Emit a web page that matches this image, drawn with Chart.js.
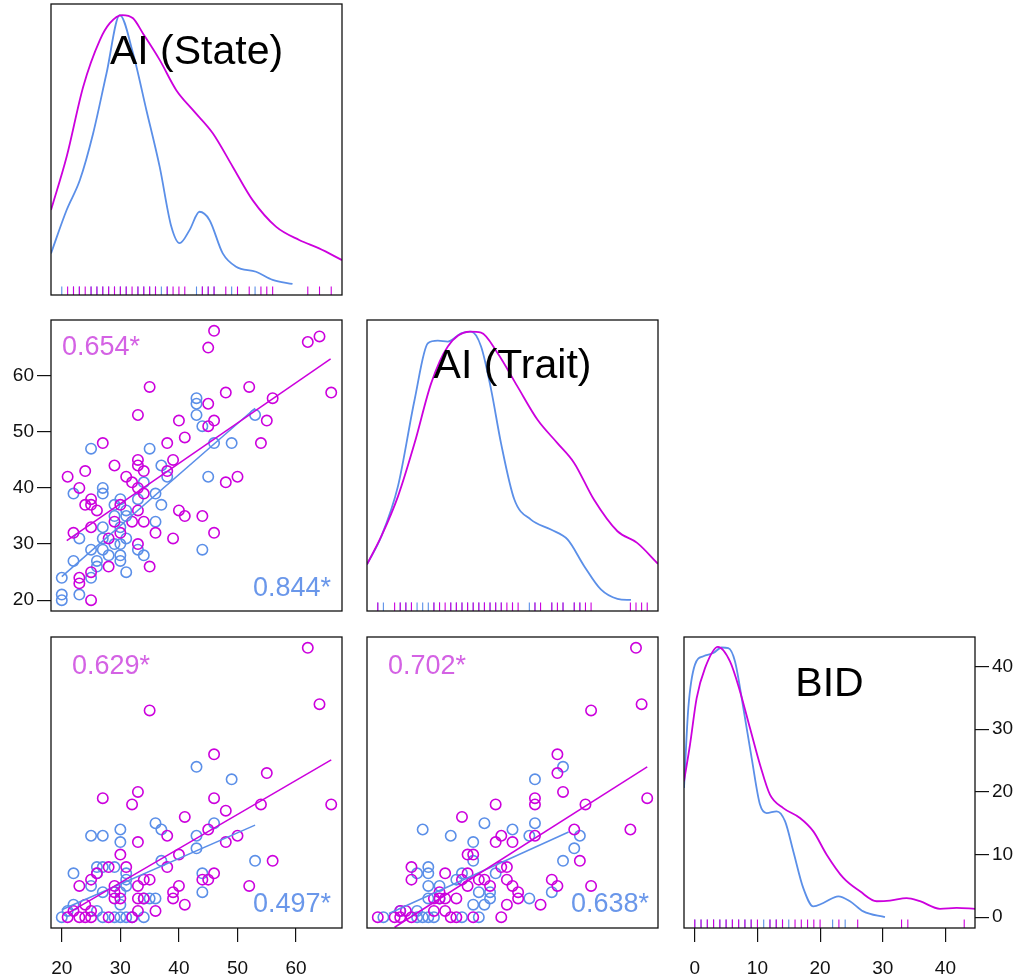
<!DOCTYPE html>
<html>
<head>
<meta charset="utf-8">
<script src="https://cdn.jsdelivr.net/npm/chart.js@4.4.1/dist/chart.umd.min.js"></script>
<style>
  body { margin: 0; background: #fff; width: 1023px; height: 980px; position: relative; overflow: hidden; }
  canvas { position: absolute; }
</style>
</head>
<body>
<script>
// ---- data ----
const stateTicks = [20, 30, 40, 50, 60];
const traitTicks = [20, 30, 40, 50, 60];
const bidTicks = [0, 10, 20, 30, 40];

const stateRange = [18.16, 67.84];
const traitRange = [18.08, 69.92];
const bidRange = [-1.72, 44.72];
const densRange = [0, 1];

// AI (State) x AI (Trait)
const p21Mag = [[46,68],[45,65],[62,66],[64,67],[66,57],[35,58],[33,53],[45,55],[48,57],[52,58],[56,56],[40,52],[46,52],[45,51],[55,52],[54,48],[41,49],[38,48],[39,45],[48,41],[50,42],[38,43],[33,45],[33,44],[34,43],[29,44],[27,48],[24,43],[21,42],[23,40],[31,42],[32,41],[33,40],[34,39],[24,37],[25,38],[25,37],[26,36],[30,37],[33,36],[40,36],[41,35],[44,35],[46,32],[29,34],[32,34],[34,34],[22,32],[25,33],[30,32],[36,32],[28,31],[39,31],[33,30],[28,26],[35,26],[23,24],[23,23],[25,25],[25,20]];
const p21Blue = [[43,56],[43,55],[43,53],[44,51],[53,53],[46,48],[49,48],[45,42],[44,29],[25,47],[35,47],[37,44],[38,42],[27,40],[27,39],[22,39],[34,41],[36,39],[37,37],[33,38],[30,38],[29,37],[31,36],[31,35],[29,35],[36,34],[27,33],[30,33],[23,31],[27,31],[31,31],[29,30],[30,30],[25,29],[27,29],[33,29],[28,28],[30,28],[34,28],[22,27],[26,27],[30,27],[26,26],[31,25],[25,24],[20,24],[20,21],[20,20],[23,21]];

// AI (State) x BID
const p31Mag = [[62,43],[64,34],[35,33],[46,26],[55,23],[46,19],[27,19],[33,20],[32,18],[41,16],[48,17],[54,18],[66,18],[38,13],[45,14],[33,12],[48,12],[50,13],[40,10],[30,10],[38,8],[56,9],[28,8],[31,8],[26,7],[23,5],[25,6],[34,6],[35,6],[44,6],[45,6],[46,7],[52,5],[40,5],[29,5],[33,5],[39,4],[39,3],[29,3],[30,3],[33,3],[34,3],[41,2],[24,2],[22,1],[25,1],[33,1],[36,1],[21,0],[23,0],[24,0],[25,0],[28,0],[32,0],[29,4]];
const p31Blue = [[43,24],[49,22],[36,15],[37,14],[46,15],[43,13],[25,13],[27,13],[30,14],[30,12],[43,11],[37,9],[53,9],[26,8],[27,8],[29,8],[22,7],[26,7],[31,7],[31,6],[44,7],[44,4],[25,5],[27,4],[31,5],[30,4],[34,3],[35,3],[36,3],[22,2],[30,2],[26,1],[20,0],[27,0],[29,0],[30,0],[31,0],[32,0],[34,0],[21,1]];

// AI (Trait) x BID
const p32Mag = [[66,43],[67,34],[58,33],[52,26],[52,23],[53,20],[68,19],[48,19],[48,18],[57,18],[41,18],[35,16],[65,14],[55,14],[48,13],[42,13],[41,12],[44,12],[36,10],[37,10],[56,9],[26,8],[26,6],[32,7],[36,7],[42,8],[43,8],[43,6],[38,6],[39,6],[40,5],[44,5],[51,6],[52,5],[58,5],[45,4],[45,3],[35,6],[36,5],[31,4],[32,3],[31,3],[34,3],[49,2],[43,2],[30,1],[32,1],[25,1],[24,1],[20,0],[23,0],[24,0],[26,0],[33,0],[34,0],[37,0],[42,0],[30,3]];
const p32Blue = [[53,24],[48,22],[48,15],[47,13],[56,13],[55,11],[53,9],[51,4],[47,3],[44,14],[39,15],[28,14],[33,13],[37,12],[37,9],[29,8],[27,7],[29,7],[34,6],[35,7],[31,5],[29,5],[38,4],[40,4],[40,3],[29,3],[31,3],[37,2],[39,2],[27,1],[24,1],[21,0],[27,0],[28,0],[29,0],[30,0],[35,0],[38,0],[41,7]];

// fitted lines (end points)
const fit21Mag = [[20.85, 30.6], [65.9, 63.0]];
const fit21Blue = [[20, 24.2], [53, 54.2]];
const fit31Mag = [[21, 0.6], [66, 25.1]];
const fit31Blue = [[20, 1.2], [53, 14.7]];
const fit32Mag = [[23, -1.6], [68, 24.0]];
const fit32Blue = [[22, 0.6], [54, 13.6]];

// densities, scaled to panel height
const densStateMag = [[18.16,0.292],[20.83,0.475],[23.66,0.716],[26.5,0.876],[28.2,0.934],[30.29,0.962],[32.16,0.951],[33.86,0.899],[36.71,0.808],[39.55,0.704],[42.37,0.636],[45.78,0.556],[49.18,0.441],[52.58,0.326],[56.56,0.235],[60.53,0.189],[63.93,0.160],[67.84,0.120]];
const densStateBlue = [[18.16,0.143],[20.83,0.292],[23.09,0.395],[25.36,0.556],[27.64,0.762],[29.9,0.962],[32.16,0.831],[34.44,0.636],[36.71,0.441],[38.7,0.235],[40.11,0.178],[41.81,0.223],[43.51,0.286],[45.21,0.258],[47.48,0.143],[49.76,0.097],[53.16,0.080],[56.0,0.052],[59.39,0.038]];
const densTraitMag = [[18.08,0.160],[20.64,0.257],[23.6,0.394],[26.56,0.577],[29.52,0.783],[32.48,0.909],[36.33,0.960],[38.4,0.957],[41.36,0.886],[44.9,0.771],[48.46,0.657],[52.0,0.577],[54.98,0.509],[58.5,0.383],[62.7,0.274],[66.2,0.234],[69.92,0.162]];
const densTraitBlue = [[18.08,0.160],[20.64,0.257],[23.6,0.429],[26.56,0.726],[28.93,0.920],[30.7,0.929],[32.48,0.926],[34.85,0.954],[36.63,0.960],[38.4,0.909],[40.2,0.760],[41.95,0.577],[44.33,0.383],[47.28,0.314],[50.84,0.280],[53.8,0.246],[56.78,0.154],[59.74,0.074],[62.7,0.042],[65.1,0.038]];
const densBidMag = [[-1.72,0.504],[-0.76,0.630],[0.30,0.790],[1.63,0.893],[3.7,0.966],[5.62,0.916],[7.22,0.813],[8.81,0.687],[10.41,0.561],[12.0,0.458],[14.13,0.412],[16.79,0.378],[18.92,0.332],[21.05,0.252],[23.71,0.172],[26.37,0.126],[29.03,0.092],[31.15,0.094],[33.81,0.103],[35.94,0.092],[39.13,0.066],[41.79,0.069],[44.72,0.066]];
const densBidBlue = [[-1.72,0.481],[-1.03,0.756],[0.03,0.905],[1.37,0.934],[2.96,0.945],[4.29,0.964],[5.35,0.962],[6.42,0.916],[7.75,0.756],[9.08,0.584],[10.41,0.424],[11.47,0.395],[13.07,0.401],[14.40,0.367],[15.73,0.263],[17.32,0.137],[18.92,0.074],[20.51,0.086],[22.91,0.109],[24.77,0.092],[26.9,0.057],[30.35,0.037]];

// ---- styling ----
const FONT = '"Liberation Sans", Arial, Helvetica, sans-serif';
const MAG = '#cc00dd';
const BLUE = '#5b8fe8';
const MAG_TXT = '#d462e4';
const BLUE_TXT = '#6a97ea';
const BOX = 291;
const M = 8;
const colLeft = [51, 367, 684];
const rowTop = [4, 320, 637];
const RUG_Y = 0.0145;

const pts = arr => arr.map(([x, y]) => ({ x, y }));
const uniq = arr => [...new Set(arr)].sort((a, b) => a - b);
const col = (arr, i) => arr.map(p => p[i]);

// black frame round the plot area
const boxPlugin = {
    id: 'box',
    afterDatasetsDraw(chart) {
        const { ctx, chartArea: a } = chart;
        ctx.save();
        ctx.strokeStyle = '#111';
        ctx.lineWidth = 1.3;
        ctx.strokeRect(a.left, a.top, a.right - a.left, a.bottom - a.top);
        ctx.restore();
    }
};

function textPlugin(items) {
    return {
        id: 'texts',
        afterDraw(chart) {
            const { ctx, chartArea: a } = chart;
            ctx.save();
            ctx.textBaseline = 'middle';
            items.forEach(t => {
                ctx.font = `${t.size}px ${FONT}`;
                ctx.fillStyle = t.color;
                ctx.textAlign = t.align;
                let x = (a.left + a.right) / 2;
                if (t.align === 'left') x = a.left + t.dx;
                if (t.align === 'right') x = a.right - t.dx;
                ctx.fillText(t.text, x, a.top + t.dy);
            });
            ctx.restore();
        }
    };
}

function axis(range, ticks, size, isX, position) {
    const base = { type: 'linear', min: range[0], max: range[1], display: size > 0, position };
    if (!size) return base;
    return {
        ...base,
        afterBuildTicks: s => { s.ticks = ticks.map(v => ({ value: v })); },
        afterFit: s => {
            if (isX) s.height = size; else s.width = size;
            // keep the plot boxes the same size in every panel
            s.paddingTop = s.paddingBottom = s.paddingLeft = s.paddingRight = 0;
        },
        border: { display: false },
        grid: { drawOnChartArea: false, drawTicks: true, tickLength: 14, color: '#111', lineWidth: 1.2 },
        ticks: {
            color: '#111',
            font: { family: FONT, size: 19 },
            padding: isX ? 15 : 3,
            autoSkip: false,
            maxRotation: 0,
            callback: v => String(v)
        }
    };
}

const scatterSet = (data, color, order) => ({
    data: pts(data), showLine: false, order,
    pointRadius: 5.2, pointBorderWidth: 1.6,
    pointBorderColor: color, pointBackgroundColor: 'rgba(0,0,0,0)'
});
const lineSet = (data, color, order) => ({
    data: pts(data), showLine: true, order,
    borderColor: color, borderWidth: 1.5, pointRadius: 0, tension: 0
});
const densSet = (data, color, order) => ({
    data: pts(data), showLine: true, order,
    borderColor: color, borderWidth: 1.8, pointRadius: 0,
    cubicInterpolationMode: 'monotone'
});
const rugSet = (vals, color, order) => ({
    data: uniq(vals).map(v => ({ x: v, y: RUG_Y })), showLine: false, order,
    pointStyle: 'line', rotation: 90, pointRadius: 4.3,
    pointBorderWidth: 1.1, pointBorderColor: color
});

// one chart per panel; margins = space kept round the box for axes
function panel(row, column, cfg) {
    const am = cfg.margins || {};
    const m = { l: M, r: M, t: M, b: M, ...am };
    const cv = document.createElement('canvas');
    cv.width = m.l + BOX + m.r;
    cv.height = m.t + BOX + m.b;
    cv.style.left = (colLeft[column] - m.l) + 'px';
    cv.style.top = (rowTop[row] - m.t) + 'px';
    document.body.appendChild(cv);

    const scales = { x: cfg.x, y: cfg.y };
    if (cfg.y2) scales.y2 = cfg.y2;

    new Chart(cv, {
        type: 'scatter',
        data: { datasets: cfg.datasets },
        options: {
            responsive: false,
            animation: false,
            events: [],
            layout: {
                padding: { left: am.l ? 0 : M, right: am.r ? 0 : M, top: M, bottom: am.b ? 0 : M }
            },
            plugins: { legend: { display: false }, tooltip: { enabled: false } },
            scales
        },
        plugins: [boxPlugin, textPlugin(cfg.texts || [])]
    });
}

// diagonal: AI (State)
panel(0, 0, {
    x: axis(stateRange, stateTicks, 0, true),
    y: axis(densRange, [], 0, false),
    datasets: [
        densSet(densStateMag, MAG, 0),
        densSet(densStateBlue, BLUE, 1),
        rugSet(col(p21Mag, 0), MAG, 2),
        rugSet(col(p21Blue, 0), BLUE, 3)
    ],
    texts: [{ text: 'AI (State)', color: '#000', size: 41, align: 'center', dy: 49 }]
});

// AI (State) vs AI (Trait)
panel(1, 0, {
    margins: { l: 51 },
    x: axis(stateRange, stateTicks, 0, true),
    y: axis(traitRange, traitTicks, 51, false, 'left'),
    datasets: [
        lineSet(fit21Mag, MAG, 0),
        lineSet(fit21Blue, BLUE, 1),
        scatterSet(p21Mag, MAG, 2),
        scatterSet(p21Blue, BLUE, 3)
    ],
    texts: [
        { text: '0.654*', color: MAG_TXT, size: 27, align: 'left', dx: 11, dy: 28 },
        { text: '0.844*', color: BLUE_TXT, size: 27, align: 'right', dx: 11, dy: 269 }
    ]
});

// diagonal: AI (Trait)
panel(1, 1, {
    x: axis(traitRange, traitTicks, 0, true),
    y: axis(densRange, [], 0, false),
    datasets: [
        densSet(densTraitMag, MAG, 0),
        densSet(densTraitBlue, BLUE, 1),
        rugSet(col(p21Mag, 1), MAG, 2),
        rugSet(col(p21Blue, 1), BLUE, 3)
    ],
    texts: [{ text: 'AI (Trait)', color: '#000', size: 41, align: 'center', dy: 47 }]
});

// AI (State) vs BID
panel(2, 0, {
    margins: { b: 52 },
    x: axis(stateRange, stateTicks, 52, true, 'bottom'),
    y: axis(bidRange, bidTicks, 0, false),
    datasets: [
        lineSet(fit31Mag, MAG, 0),
        lineSet(fit31Blue, BLUE, 1),
        scatterSet(p31Mag, MAG, 2),
        scatterSet(p31Blue, BLUE, 3)
    ],
    texts: [
        { text: '0.629*', color: MAG_TXT, size: 27, align: 'left', dx: 21, dy: 30 },
        { text: '0.497*', color: BLUE_TXT, size: 27, align: 'right', dx: 11, dy: 268 }
    ]
});

// AI (Trait) vs BID
panel(2, 1, {
    x: axis(traitRange, traitTicks, 0, true),
    y: axis(bidRange, bidTicks, 0, false),
    datasets: [
        lineSet(fit32Mag, MAG, 0),
        lineSet(fit32Blue, BLUE, 1),
        scatterSet(p32Mag, MAG, 2),
        scatterSet(p32Blue, BLUE, 3)
    ],
    texts: [
        { text: '0.702*', color: MAG_TXT, size: 27, align: 'left', dx: 21, dy: 30 },
        { text: '0.638*', color: BLUE_TXT, size: 27, align: 'right', dx: 9, dy: 268 }
    ]
});

// diagonal: BID, with the BID axis of the bottom row on its right
panel(2, 2, {
    margins: { b: 52, r: 48 },
    x: axis(bidRange, bidTicks, 52, true, 'bottom'),
    y: axis(densRange, [], 0, false),
    y2: axis(bidRange, bidTicks, 48, false, 'right'),
    datasets: [
        densSet(densBidMag, MAG, 0),
        densSet(densBidBlue, BLUE, 1),
        rugSet(col(p31Mag, 1), MAG, 2),
        rugSet(col(p31Blue, 1), BLUE, 3)
    ],
    texts: [{ text: 'BID', color: '#000', size: 41, align: 'center', dy: 48 }]
});
</script>
</body>
</html>
